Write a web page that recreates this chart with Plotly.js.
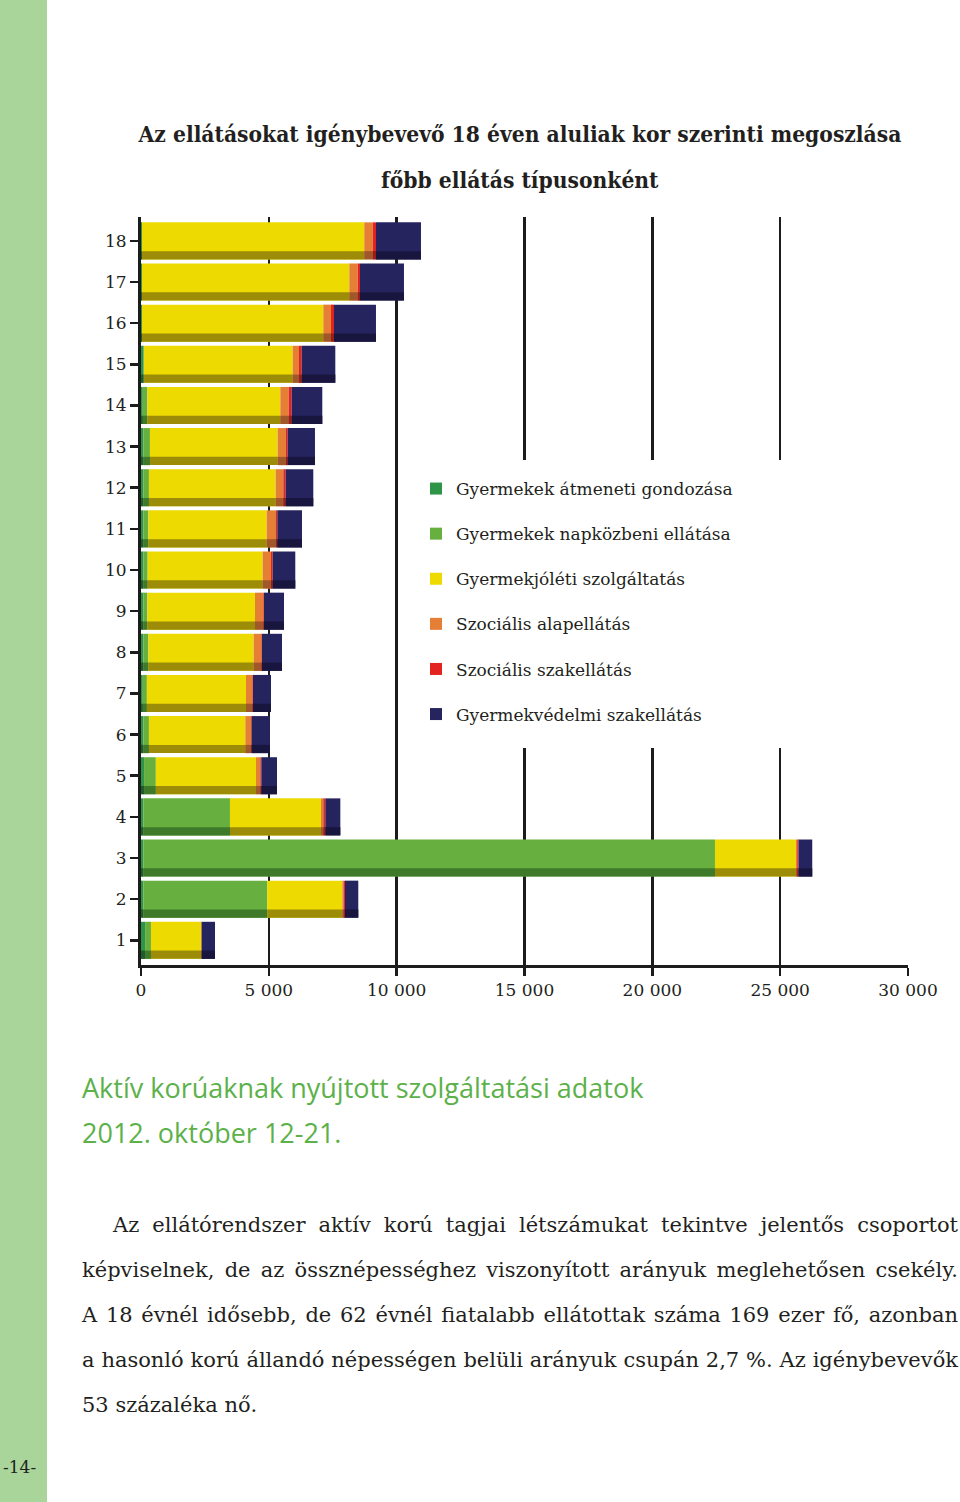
<!DOCTYPE html>
<html>
<head>
<meta charset="utf-8">
<script src="https://cdn.plot.ly/plotly-3.0.1.min.js"></script>
<style>
  html, body { margin: 0; padding: 0; background: #ffffff; }
  #chart { position: absolute; left: 0; top: 0; width: 960px; height: 1502px; }
  #para { position: absolute; left: 82px; top: 1203px; width: 876px;
          font-family: "DejaVu Serif", serif; font-size: 21px;
          color: #231f20; line-height: 45px; }
  #para div { text-align: justify; text-align-last: justify; white-space: nowrap; }
  #para div.last { text-align-last: left; }
  #para div.first { padding-left: 31px; }
</style>
</head>
<body>
<div id="chart"></div>
<div id="para">
  <div class="first">Az ellátórendszer aktív korú tagjai létszámukat tekintve jelentős csoportot</div>
  <div>képviselnek, de az össznépességhez viszonyított arányuk meglehetősen csekély.</div>
  <div>A 18 évnél idősebb, de 62 évnél fiatalabb ellátottak száma 169 ezer fő, azonban</div>
  <div>a hasonló korú állandó népességen belüli arányuk csupán 2,7 %. Az igénybevevők</div>
  <div class="last">53 százaléka nő.</div>
</div>
<script>
// ---- data ----
const ages = [1, 2, 3, 4, 5, 6, 7, 8, 9, 10, 11, 12, 13, 14, 15, 16, 17, 18];
const ageLabels = ["1","2","3","4","5","6","7","8","9","10","11","12","13","14","15","16","17","18"];
const seriesNames = ["Gyermekek átmeneti gondozása", "Gyermekek napközbeni ellátása", "Gyermekjóléti szolgáltatás",
                     "Szociális alapellátás", "Szociális szakellátás", "Gyermekvédelmi szakellátás"];
const atmeneti     = [160, 90, 90, 90, 120, 90, 70, 90, 90, 90, 90, 90, 90, 70, 100, 40, 40, 40];
const napkozbeni   = [230, 4850, 22360, 3390, 460, 220, 160, 200, 160, 170, 200, 220, 260, 180, 20, 0, 0, 0];
const gyermekjoleti= [1957, 2934, 3167, 3560, 3918, 3770, 3877, 4117, 4209, 4499, 4625, 4957, 4995, 5199, 5812, 7091, 8108, 8693];
const alapellatas  = [25, 50, 50, 91, 169, 222, 248, 300, 326, 325, 365, 300, 326, 327, 248, 300, 328, 329];
const szakellatas  = [0, 54, 50, 78, 39, 28, 25, 25, 26, 66, 52, 92, 65, 117, 105, 117, 90, 129];
const gyvedelmi    = [522, 521, 538, 587, 613, 715, 705, 783, 782, 885, 965, 1080, 1069, 1198, 1315, 1643, 1720, 1760];
const xTickVals  = [0, 5000, 10000, 15000, 20000, 25000, 30000];
const xTickText  = ["0", "5 000", "10 000", "15 000", "20 000", "25 000", "30 000"];

// ---- styles ----
const mainColors  = ["#2e9447", "#67b040", "#ecda00", "#e67f36", "#e2231f", "#26245f"];
const stripColors = ["#1f5c2b", "#3f7a2b", "#9c8c08", "#a0582a", "#9e1c18", "#18163f"];
const serif = "DejaVu Serif, serif";
const serifC = "DejaVu Serif Condensed, DejaVu Serif, serif";

const allSeries = [atmeneti, napkozbeni, gyermekjoleti, alapellatas, szakellatas, gyvedelmi];
const traces = [];
const strips = [];
let cum = ages.map(() => 0);
allSeries.forEach((vals, i) => {
  const base = cum.slice();
  traces.push({
    type: "bar", orientation: "h", y: ages, x: vals, base: base,
    width: 0.9, offset: -0.45, name: seriesNames[i],
    marker: { color: mainColors[i], line: { width: 0 } },
    legendgroup: "g" + i, hoverinfo: "skip"
  });
  strips.push({
    type: "bar", orientation: "h", y: ages, x: vals, base: base,
    width: 0.2, offset: -0.45, showlegend: false,
    marker: { color: stripColors[i], line: { width: 0 } },
    legendgroup: "g" + i, hoverinfo: "skip"
  });
  cum = cum.map((c, k) => c + vals[k]);
});

const L = 141, R = 908, T = 217, B = 965, W = 960, H = 1502;
const px = v => (v - L) / (R - L);
const py = v => (B - v) / (B - T);

const layout = {
  width: W, height: H,
  margin: { l: L, r: W - R, t: T, b: H - B, pad: 0 },
  paper_bgcolor: "#ffffff", plot_bgcolor: "#ffffff",
  barmode: "overlay",
  showlegend: true,
  hovermode: false,
  title: {
    text: "Az ellátásokat igénybevevő 18 éven aluliak kor szerinti megoszlása",
    font: { family: serifC, size: 22.6, color: "#231f20", weight: 600 },
    x: 520 / W, xanchor: "center", xref: "container",
    y: 1 - 134 / H, yanchor: "middle", yref: "container"
  },
  legend: {
    x: px(416), xanchor: "left", y: py(471), yanchor: "top",
    bgcolor: "rgba(255,255,255,0)", borderwidth: 0,
    font: { family: serif, size: 17, color: "#231f20" },
    tracegroupgap: 20, traceorder: "grouped", itemclick: false, itemdoubleclick: false
  },
  xaxis: {
    range: [0, 30000], tickvals: xTickVals, ticktext: xTickText,
    showgrid: true, gridcolor: "#1c1c1c", gridwidth: 2.5,
    zeroline: false, showline: true, linecolor: "#1c1c1c", linewidth: 3,
    ticks: "outside", ticklen: 8, tickwidth: 2.5, tickcolor: "#1c1c1c",
    tickfont: { family: serif, size: 17, color: "#231f20" }, fixedrange: true
  },
  yaxis: {
    range: [0.40, 18.58], tickvals: ages, ticktext: ageLabels,
    showgrid: false, zeroline: false, showline: true, linecolor: "#1c1c1c", linewidth: 3,
    ticks: "outside", ticklen: 8, tickwidth: 2.5, tickcolor: "#1c1c1c",
    tickfont: { family: serif, size: 17, color: "#231f20" }, fixedrange: true
  },
  shapes: [
    { type: "rect", xref: "paper", yref: "paper", x0: px(0), x1: px(47), y0: py(H), y1: py(0),
      fillcolor: "#a9d59b", line: { width: 0 }, layer: "below" },
    { type: "rect", xref: "paper", yref: "paper", x0: px(424), x1: px(792), y0: py(748), y1: py(460),
      fillcolor: "#ffffff", line: { width: 0 }, layer: "above" }
  ],
  annotations: [
    { text: "főbb ellátás típusonként", xref: "paper", yref: "paper", x: px(520), y: py(180),
      xanchor: "center", yanchor: "middle", showarrow: false,
      font: { family: serifC, size: 22.6, color: "#231f20", weight: 600 } },
    { text: "Aktív korúaknak nyújtott szolgáltatási adatok", xref: "paper", yref: "paper", x: px(80), y: py(1087),
      xanchor: "left", yanchor: "middle", showarrow: false,
      font: { family: "Open Sans, sans-serif", size: 27, color: "#5cb14a", weight: 500 } },
    { text: "2012. október 12-21.", xref: "paper", yref: "paper", x: px(80), y: py(1132),
      xanchor: "left", yanchor: "middle", showarrow: false,
      font: { family: "Open Sans, sans-serif", size: 27, color: "#5cb14a", weight: 500 } },
    { text: "-14-", xref: "paper", yref: "paper", x: px(19), y: py(1467),
      xanchor: "center", yanchor: "middle", showarrow: false,
      font: { family: serif, size: 17, color: "#231f20" } }
  ]
};

Plotly.newPlot("chart", traces.concat(strips), layout, { staticPlot: true, displayModeBar: false });
</script>
</body>
</html>
